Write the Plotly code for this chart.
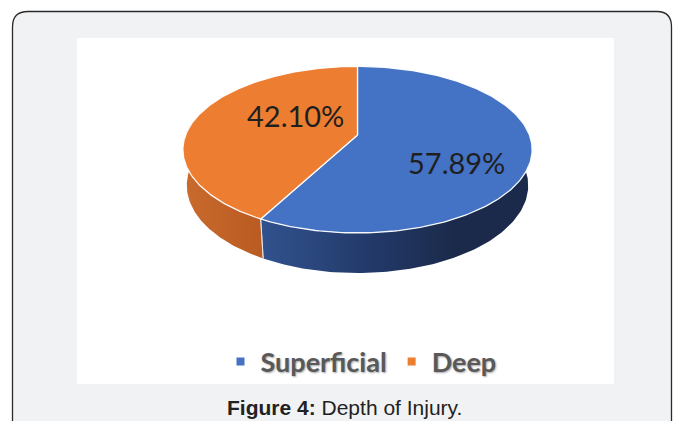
import numpy as np
import plotly.graph_objects as go

# ---- data ----
labels = ["Superficial", "Deep"]
values = [57.89, 42.10]
value_text = ["57.89%", "42.10%"]
caption_bold = "Figure 4:"
caption_rest = "Depth of Injury."

# ---- styles ----
top_colors = ["#4472C4", "#ED7D31"]
side_scales = [
    [[0, "#31528E"], [0.45, "#213765"], [0.72, "#1B2A4A"], [1, "#1B2A4A"]],
    [[0, "#C96B2D"], [1, "#B95B22"]],
]

W, Hh = 673, 421
# 3D projection parameters (pixel space)
CX, CY = 357.5, 135.0
ALPHA = np.radians(28)
SA, CA = np.sin(ALPHA), np.cos(ALPHA)
DIST = 5.02
K = 863.0
THICK = 0.238


def proj(theta_deg, r=1.0, h=0.0):
    t = np.radians(np.asarray(theta_deg, dtype=float))
    x3 = r * np.sin(t)
    z3 = r * np.cos(t)
    yv = z3 * SA + h * CA
    depth = DIST + z3 * CA - h * SA
    return CX + K * x3 / depth, CY - K * yv / depth


fig = go.Figure()

total = sum(values)
bounds = []
acc = 0.0
for v in values:
    a0 = acc / total * 360
    acc += v
    a1 = acc / total * 360
    bounds.append((a0, a1))

# sides (drawn first)
for i, (a0, a1) in enumerate(bounds):
    lo, hi = max(a0, 72), min(a1, 288)
    if lo >= hi:
        continue
    th = np.linspace(lo, hi, 120)
    xt, yt = proj(th, 1, 0)
    xb, yb = proj(th[::-1], 1, -THICK)
    xs = np.concatenate([xt, xb, xt[:1]])
    ys = np.concatenate([yt, yb, yt[:1]])
    fig.add_trace(go.Scatter(
        x=xs, y=ys, mode="lines", fill="toself",
        fillgradient=dict(type="horizontal", colorscale=side_scales[i]),
        line=dict(width=0), hoverinfo="skip", showlegend=False))

# divider line on side
for (a0, a1) in bounds:
    for a in (a0, a1):
        if 72 < a < 288:
            x0, y0 = proj(a, 1, 0)
            x1, y1 = proj(a, 1, -THICK)
            fig.add_trace(go.Scatter(
                x=[x0, x1], y=[y0, y1], mode="lines",
                line=dict(color="rgba(235,235,235,0.8)", width=1),
                hoverinfo="skip", showlegend=False))

# top faces
for i, (a0, a1) in enumerate(bounds):
    th = np.linspace(a0, a1, 200)
    xa, ya = proj(th, 1, 0)
    xs = np.concatenate([[CX], xa, [CX]])
    ys = np.concatenate([[CY], ya, [CY]])
    fig.add_trace(go.Scatter(
        x=xs, y=ys, mode="lines", fill="toself", fillcolor=top_colors[i],
        line=dict(color="rgba(255,255,255,0.95)", width=1.3),
        name=labels[i], hoverinfo="name", showlegend=False))

# legend entries
for i, lab in enumerate(labels):
    fig.add_trace(go.Scatter(
        x=[None], y=[None], mode="markers", name=lab,
        marker=dict(symbol="square", size=8, color=top_colors[i])))

# value labels
label_pos = [(456, 162), (295, 115)]
annotations = []
for (lx, ly), txt in zip(label_pos, value_text):
    annotations.append(dict(
        x=lx, y=ly, xref="x", yref="y", text=txt, showarrow=False,
        font=dict(family="Lato", size=29, color="#1f1f1f"),
        xanchor="center", yanchor="middle"))

annotations.append(dict(
    x=344, y=407, xref="x", yref="y",
    text=f"<b>{caption_bold}</b> {caption_rest}", showarrow=False,
    font=dict(family="Liberation Sans", size=21, color="#222222"),
    xanchor="center", yanchor="middle"))

shapes = [
    dict(type="path", xref="x", yref="y",
         path="M 12.5 440 L 12.5 27 Q 12.5 11.5 28 11.5 L 657 11.5 Q 671.5 11.5 671.5 27 L 671.5 440 Z",
         line=dict(color="#2a2a2a", width=1.3), fillcolor="#F1F2F4", layer="below"),
    dict(type="rect", xref="x", yref="y", x0=77, x1=614, y0=38, y1=384,
         line=dict(width=0), fillcolor="#FFFFFF", layer="below"),
]

fig.update_layout(
    width=W, height=Hh,
    margin=dict(l=0, r=0, t=0, b=0),
    paper_bgcolor="#FFFFFF", plot_bgcolor="rgba(0,0,0,0)",
    xaxis=dict(range=[0, W], visible=False, fixedrange=True),
    yaxis=dict(range=[Hh, 0], visible=False, fixedrange=True),
    shapes=shapes, annotations=annotations,
    showlegend=True,
    legend=dict(
        orientation="h", x=361 / W, xanchor="center",
        y=1 - 362 / Hh, yanchor="middle",
        bgcolor="rgba(0,0,0,0)",
        font=dict(family="Lato", size=27, color="#595959", weight="bold",
                  shadow="1px 1px 2px rgba(0,0,0,0.35)"),
        itemclick=False, itemdoubleclick=False),
)

fig.write_html(
    "out.html",
    config={"displayModeBar": False},
    post_script="document.body.style.margin='0';document.body.style.overflow='hidden';",
)
